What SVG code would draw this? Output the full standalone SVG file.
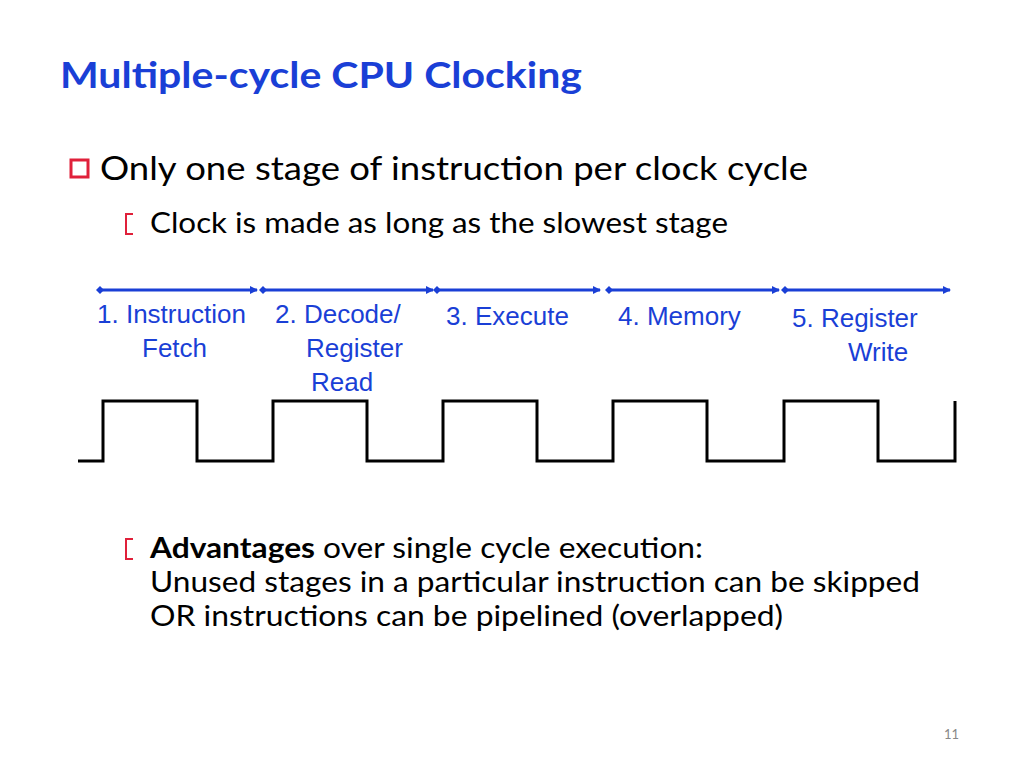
<svg xmlns="http://www.w3.org/2000/svg" width="1024" height="768" viewBox="0 0 1024 768">
<style>
.b{font-family:Lato,"Open Sans",sans-serif;fill:#000}
.s{font-family:"Liberation Sans",Arial,sans-serif;font-size:26px;fill:#1a3fd6}
.a{stroke:#1a3fd6;stroke-width:3;fill:none;marker-start:url(#d);marker-end:url(#h)}
</style>
<defs>
<marker id="h" markerWidth="8" markerHeight="8" refX="7" refY="4" orient="auto" markerUnits="userSpaceOnUse" viewBox="0 0 8 8"><path d="M0,0L8,4L0,8z" fill="#1a3fd6"/></marker>
<marker id="d" markerWidth="8" markerHeight="8" refX="4" refY="4" orient="auto" markerUnits="userSpaceOnUse" viewBox="0 0 8 8"><path d="M0,4L4,0L8,4L4,8z" fill="#1a3fd6"/></marker>
</defs>
<rect width="1024" height="768" fill="#fff"/>
<text x="60" y="88" font-family="Lato,'Open Sans',sans-serif" font-weight="bold" font-size="36" fill="#1a3fd6" textLength="522" lengthAdjust="spacingAndGlyphs">Multiple-cycle CPU Clocking</text>
<rect x="71" y="160" width="17" height="17" fill="#fff" stroke="#e0203a" stroke-width="3"/>
<text class="b" x="100" y="180" font-size="33" textLength="708" lengthAdjust="spacingAndGlyphs">Only one stage of instruction per clock cycle</text>
<path d="M133,214H126V234H133" stroke="#e0203a" stroke-width="2" fill="none"/>
<text class="b" x="150" y="233" font-size="28" textLength="578" lengthAdjust="spacingAndGlyphs">Clock is made as long as the slowest stage</text>
<g id="arrows">
<path class="a" d="M100,290H257"/>
<path class="a" d="M263,290H433"/>
<path class="a" d="M437,290H600"/>
<path class="a" d="M609,290H779"/>
<path class="a" d="M785,290H950"/>
</g>
<g id="labels">
<text class="s" x="97" y="323">1. Instruction</text>
<text class="s" x="142" y="357">Fetch</text>
<text class="s" x="275" y="323">2. Decode/</text>
<text class="s" x="306" y="357">Register</text>
<text class="s" x="311" y="391">Read</text>
<text class="s" x="446" y="325">3. Execute</text>
<text class="s" x="618" y="325">4. Memory</text>
<text class="s" x="792" y="327">5. Register</text>
<text class="s" x="848" y="361">Write</text>
</g>
<g id="clock">
<path d="M78,461H103V401H197V461H273V401H367V461H443V401H537V461H613V401H707V461H784V401H878V461H955V401" stroke="#000" stroke-width="3" fill="none"/>
</g>
<path d="M133,539H126V559H133" stroke="#e0203a" stroke-width="2" fill="none"/>
<text class="b" x="150" y="558" font-size="28" textLength="553" lengthAdjust="spacingAndGlyphs"><tspan font-weight="bold">Advantages</tspan> over single cycle execution:</text>
<text class="b" x="150" y="592" font-size="28" textLength="770" lengthAdjust="spacingAndGlyphs">Unused stages in a particular instruction can be skipped</text>
<text class="b" x="150" y="626" font-size="28" textLength="633" lengthAdjust="spacingAndGlyphs">OR instructions can be pipelined (overlapped)</text>
<text x="944" y="739" font-family="Lato,sans-serif" font-size="13" fill="#888">11</text>
</svg>
